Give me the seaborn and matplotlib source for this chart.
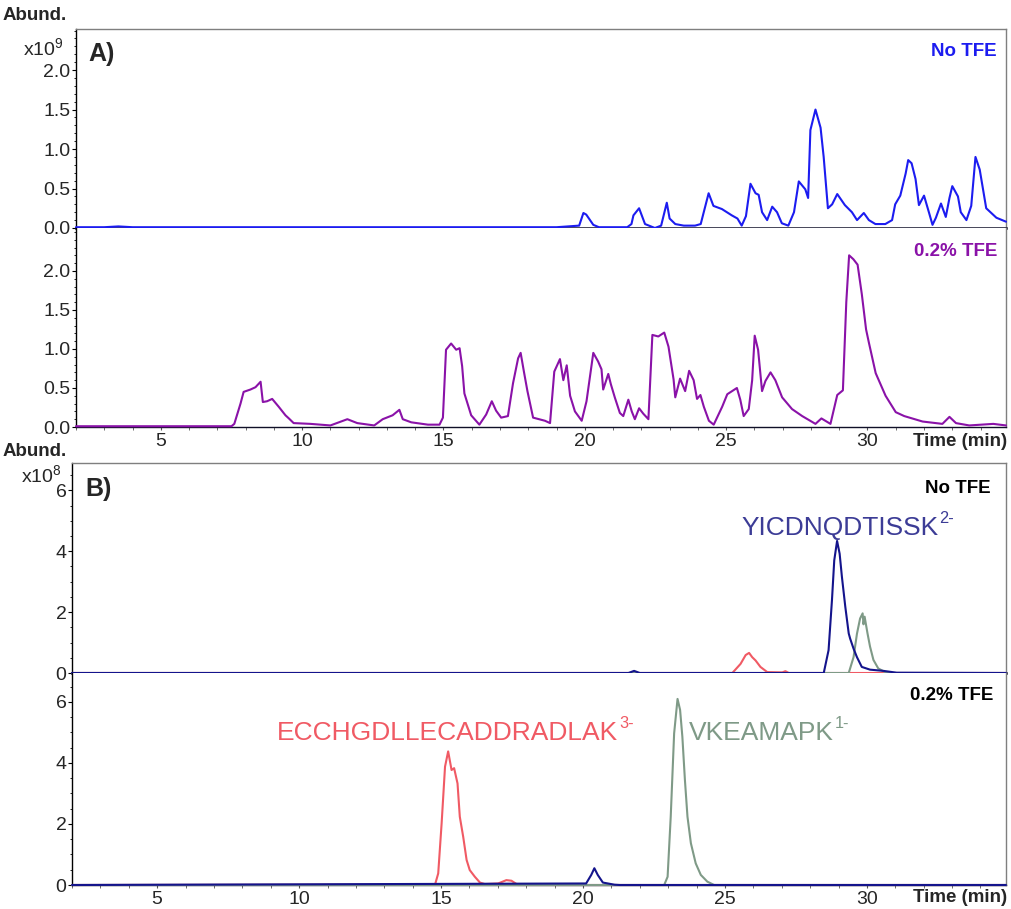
import matplotlib
matplotlib.use("Agg")
import matplotlib.pyplot as plt
import pandas as pd
import seaborn as sns
from matplotlib.ticker import MultipleLocator, FixedLocator, FormatStrFormatter

# ---------------------------------------------------------------------------
# Chromatogram data: (retention time in min, abundance)
# Panel A: total ion chromatograms, abundance x10^9
# ---------------------------------------------------------------------------
tic_no_tfe = [
    (2.0, 0.01), (3.0, 0.01), (3.5, 0.02), (4.0, 0.01), (6.0, 0.01), (8.0, 0.01),
    (10.0, 0.01), (14.0, 0.01), (19.0, 0.01), (19.8, 0.03), (19.95, 0.19), (20.05, 0.17),
    (20.3, 0.04), (20.5, 0.01), (21.5, 0.01), (21.65, 0.05), (21.72, 0.16), (21.92, 0.25),
    (22.13, 0.05), (22.48, 0.0), (22.7, 0.03), (22.9, 0.32), (23.0, 0.12), (23.2, 0.05),
    (23.5, 0.03), (23.9, 0.03), (24.1, 0.05), (24.38, 0.44), (24.55, 0.28), (24.85, 0.24),
    (25.2, 0.16), (25.4, 0.12), (25.55, 0.03), (25.7, 0.15), (25.86, 0.56), (26.04, 0.44),
    (26.15, 0.42), (26.27, 0.20), (26.45, 0.10), (26.63, 0.27), (26.8, 0.20), (26.97, 0.06),
    (27.2, 0.03), (27.4, 0.20), (27.57, 0.59), (27.8, 0.49), (27.9, 0.38), (27.98, 1.24),
    (28.16, 1.50), (28.34, 1.27), (28.45, 0.90), (28.6, 0.25), (28.75, 0.30), (28.93, 0.43),
    (29.2, 0.29), (29.45, 0.20), (29.63, 0.10), (29.87, 0.19), (30.05, 0.10), (30.28, 0.05),
    (30.63, 0.05), (30.87, 0.10), (30.98, 0.30), (31.16, 0.41), (31.35, 0.69), (31.44, 0.86),
    (31.56, 0.82), (31.7, 0.62), (31.82, 0.29), (32.0, 0.41), (32.18, 0.19), (32.3, 0.04),
    (32.42, 0.13), (32.6, 0.31), (32.77, 0.14), (32.9, 0.38), (33.0, 0.53), (33.2, 0.40),
    (33.3, 0.20), (33.5, 0.10), (33.67, 0.28), (33.82, 0.90), (33.97, 0.74), (34.2, 0.25),
    (34.56, 0.13), (34.9, 0.08),
]

tic_tfe = [
    (2.0, 0.01), (5.0, 0.01), (7.5, 0.01), (7.6, 0.04), (7.82, 0.30), (7.93, 0.45),
    (8.17, 0.48), (8.35, 0.51), (8.53, 0.58), (8.61, 0.32), (8.76, 0.33), (8.94, 0.36),
    (9.17, 0.26), (9.41, 0.15), (9.53, 0.11), (9.7, 0.05), (10.3, 0.04), (11.0, 0.02),
    (11.6, 0.10), (11.95, 0.05), (12.55, 0.02), (12.85, 0.10), (13.2, 0.15), (13.44, 0.22),
    (13.56, 0.10), (13.86, 0.06), (14.45, 0.03), (14.86, 0.03), (14.98, 0.12), (15.09, 0.99),
    (15.27, 1.07), (15.45, 0.99), (15.57, 1.01), (15.66, 0.78), (15.74, 0.43), (15.98, 0.15),
    (16.27, 0.03), (16.51, 0.16), (16.71, 0.33), (16.86, 0.21), (17.04, 0.12), (17.28, 0.14),
    (17.46, 0.56), (17.64, 0.88), (17.73, 0.95), (17.85, 0.70), (17.97, 0.46), (18.17, 0.12),
    (18.59, 0.08), (18.77, 0.05), (18.92, 0.71), (19.12, 0.87), (19.24, 0.60), (19.36, 0.79),
    (19.48, 0.40), (19.65, 0.20), (19.89, 0.08), (20.06, 0.33), (20.3, 0.95), (20.47, 0.84),
    (20.59, 0.74), (20.65, 0.48), (20.83, 0.68), (20.92, 0.55), (21.06, 0.38), (21.24, 0.18),
    (21.36, 0.14), (21.54, 0.35), (21.66, 0.20), (21.77, 0.10), (21.92, 0.24), (22.07, 0.17),
    (22.25, 0.10), (22.39, 1.18), (22.6, 1.16), (22.81, 1.21), (22.96, 1.03), (23.14, 0.61),
    (23.2, 0.38), (23.37, 0.62), (23.55, 0.46), (23.69, 0.72), (23.85, 0.60), (23.97, 0.36),
    (24.09, 0.41), (24.21, 0.26), (24.39, 0.08), (24.56, 0.03), (24.86, 0.26), (25.04, 0.42),
    (25.38, 0.50), (25.5, 0.35), (25.62, 0.14), (25.8, 0.23), (25.92, 0.60), (26.01, 1.17),
    (26.13, 0.99), (26.27, 0.46), (26.39, 0.59), (26.57, 0.70), (26.74, 0.60), (26.98, 0.38),
    (27.33, 0.23), (27.69, 0.14), (28.16, 0.04), (28.37, 0.11), (28.69, 0.04), (28.93, 0.41),
    (29.13, 0.47), (29.25, 1.60), (29.35, 2.20), (29.5, 2.15), (29.65, 2.08), (29.8, 1.70),
    (29.95, 1.25), (30.05, 1.08), (30.29, 0.69), (30.64, 0.40), (31.0, 0.19), (31.3, 0.14),
    (31.95, 0.07), (32.65, 0.04), (32.9, 0.13), (33.13, 0.05), (33.6, 0.02), (34.45, 0.04),
    (34.9, 0.02),
]

# ---------------------------------------------------------------------------
# Panel B: extracted ion chromatograms of three peptides, abundance x10^8
# ---------------------------------------------------------------------------
yicd_no_tfe = [
    (2.0, 0.0), (21.6, 0.0), (21.8, 0.07), (22.0, 0.0), (28.48, 0.0), (28.65, 0.75),
    (28.77, 2.4), (28.85, 3.7), (28.95, 4.34), (29.04, 3.92), (29.12, 3.16), (29.24, 2.17),
    (29.36, 1.3), (29.41, 1.13), (29.53, 0.8), (29.65, 0.52), (29.82, 0.2), (30.11, 0.11),
    (30.58, 0.07), (31.05, 0.01), (34.9, 0.0),
]
vkea_no_tfe = [
    (2.0, 0.0), (29.36, 0.0), (29.53, 0.52), (29.65, 1.29), (29.76, 1.79), (29.85, 1.96),
    (29.88, 1.6), (29.92, 1.85), (30.02, 1.31), (30.11, 0.87), (30.23, 0.43), (30.4, 0.15),
    (30.7, 0.0), (34.9, 0.0),
]
ecch_no_tfe = [
    (2.0, 0.0), (25.26, 0.0), (25.55, 0.3), (25.73, 0.59), (25.85, 0.66), (25.96, 0.52),
    (26.08, 0.41), (26.25, 0.2), (26.49, 0.03), (27.02, 0.02), (27.13, 0.06), (27.25, 0.0),
    (34.9, 0.0),
]
yicd_tfe = [
    (2.0, 0.0), (20.11, 0.05), (20.29, 0.33), (20.4, 0.55), (20.52, 0.33), (20.7, 0.08),
    (21.11, 0.01), (21.3, 0.0), (34.9, 0.0),
]
vkea_tfe = [
    (2.0, 0.0), (22.86, 0.0), (22.98, 0.27), (23.09, 2.24), (23.21, 4.97), (23.33, 6.1),
    (23.42, 5.74), (23.5, 4.86), (23.59, 3.44), (23.68, 2.24), (23.8, 1.37), (23.97, 0.71),
    (24.15, 0.33), (24.38, 0.11), (24.62, 0.0), (34.9, 0.0),
]
ecch_tfe = [
    (2.0, 0.0), (14.2, 0.01), (14.79, 0.02), (14.9, 0.38), (15.02, 2.02), (15.14, 3.88),
    (15.25, 4.38), (15.37, 3.77), (15.46, 3.83), (15.58, 3.33), (15.66, 2.24), (15.78, 1.58),
    (15.9, 0.82), (16.01, 0.49), (16.19, 0.27), (16.37, 0.08), (16.54, 0.03), (17.01, 0.05),
    (17.3, 0.16), (17.48, 0.14), (17.71, 0.0), (34.9, 0.0),
]

conditions = ["No TFE", "0.2% TFE"]
peptides = ["YICDNQDTISSK", "ECCHGDLLECADDRADLAK", "VKEAMAPK"]
charges = ["2-", "3-", "1-"]

# ---------------------------------------------------------------------------
# Styling
# ---------------------------------------------------------------------------
sns.set_style("ticks")
plt.rcParams["font.family"] = ["Liberation Sans", "DejaVu Sans"]
plt.rcParams["mathtext.fontset"] = "custom"
plt.rcParams["mathtext.rm"] = "Liberation Sans"
plt.rcParams["mathtext.it"] = "Liberation Sans:italic"
plt.rcParams["mathtext.bf"] = "Liberation Sans:bold"

C_BLUE = "#1c1cf0"
C_PURPLE = "#8a12a8"
C_NAVY = "#14148c"
C_RED = "#f05a64"
C_GREEN = "#7f9a87"
C_FRAME = "#7f7f7f"

W, H = 1012, 909
fig = plt.figure(figsize=(W / 100, H / 100), dpi=100)


def box(left, top, right, bottom):
    return [left / W, 1 - bottom / H, (right - left) / W, (bottom - top) / H]


def ftext(x, y, s, **kw):
    return fig.text(x / W, 1 - y / H, s, **kw)


axA1 = fig.add_axes(box(76, 29, 1006, 228))
axA2 = fig.add_axes(box(76, 228, 1006, 427))
axB1 = fig.add_axes(box(72, 463, 1006, 673))
axB2 = fig.add_axes(box(72, 673, 1006, 885))


def trace(ax, pts, color, lw=1.5):
    df = pd.DataFrame(pts, columns=["time", "abund"])
    sns.lineplot(data=df, x="time", y="abund", ax=ax, color=color, lw=lw,
                 estimator=None, sort=False, clip_on=False, zorder=3)


def style(ax, ylim, majors, minor, fmt, top_frame, show_x):
    ax.set_xlim(2, 34.9)
    ax.set_ylim(*ylim)
    ax.set_xlabel("")
    ax.set_ylabel("")
    ax.yaxis.set_major_locator(FixedLocator(majors))
    ax.yaxis.set_minor_locator(MultipleLocator(minor))
    ax.yaxis.set_major_formatter(FormatStrFormatter(fmt))
    ax.xaxis.set_major_locator(MultipleLocator(5))
    ax.xaxis.set_minor_locator(MultipleLocator(1))
    ax.spines["left"].set_color("black")
    ax.spines["left"].set_linewidth(1.0)
    ax.spines["right"].set_color(C_FRAME)
    ax.spines["right"].set_linewidth(1.0)
    ax.spines["top"].set_visible(top_frame)
    ax.spines["top"].set_color(C_FRAME)
    ax.spines["top"].set_linewidth(1.0)
    ax.spines["bottom"].set_color("#101028")
    ax.spines["bottom"].set_linewidth(1.8 if top_frame else 1.0)
    ax.tick_params(axis="y", which="major", direction="out", length=3, width=0.8,
                   labelsize=14, pad=1, color="black")
    ax.tick_params(axis="y", which="minor", direction="out", length=1.8, width=0.6,
                   color="black")
    if show_x:
        ax.tick_params(axis="x", which="major", direction="out", length=2.5, width=0.8,
                       labelsize=14, pad=2, color="#555555")
        ax.tick_params(axis="x", which="minor", direction="out", length=1.8, width=0.6,
                       color="#555555")
    else:
        ax.tick_params(axis="x", which="both", bottom=False, labelbottom=False)


# Panel A
trace(axA1, tic_no_tfe, C_BLUE)
trace(axA2, tic_tfe, C_PURPLE)
a_ticks = [0.0, 0.5, 1.0, 1.5, 2.0]
style(axA1, (0, 2.52), a_ticks, 0.1, "%.1f", True, False)
style(axA2, (0, 2.55), a_ticks, 0.1, "%.1f", False, True)

# Panel B
trace(axB1, ecch_no_tfe, C_RED)
trace(axB1, vkea_no_tfe, C_GREEN)
trace(axB1, yicd_no_tfe, C_NAVY)
trace(axB2, ecch_tfe, C_RED)
trace(axB2, vkea_tfe, C_GREEN)
trace(axB2, yicd_tfe, C_NAVY)
b_ticks = [0, 2, 4, 6]
style(axB1, (0, 6.9), b_ticks, 0.5, "%d", True, False)
style(axB2, (0, 6.95), b_ticks, 0.5, "%d", False, True)

# Axis annotations
bold = dict(fontweight="bold", fontsize=13.5)
ftext(3, 15, "Abund.", ha="left", va="center", **bold)
ftext(3, 452, "Abund.", ha="left", va="center", **bold)
ftext(64, 48, r"x10$^{9}$", ha="right", va="center", fontsize=14)
ftext(62, 475, r"x10$^{8}$", ha="right", va="center", fontsize=14)
ftext(88, 54, "A)", ha="left", va="center", fontweight="bold", fontsize=18)
ftext(85, 489, "B)", ha="left", va="center", fontweight="bold", fontsize=18)
ftext(1007, 442, "Time (min)", ha="right", va="center", **bold)
ftext(1007, 897, "Time (min)", ha="right", va="center", **bold)

# Condition labels
ftext(997, 52, conditions[0], ha="right", va="center", color=C_BLUE, **bold)
ftext(997, 251, conditions[1], ha="right", va="center", color=C_PURPLE, **bold)
ftext(991, 489, conditions[0], ha="right", va="center", color="black", **bold)
ftext(993, 695, conditions[1], ha="right", va="center", color="black", **bold)

# Peptide labels with the charge state as a small raised suffix
renderer = fig.canvas.get_renderer()


def peptide_label(x, y, name, charge, color, size=19):
    main = ftext(x, y, name, ha="left", va="baseline", fontsize=size, color=color)
    bb = main.get_window_extent(renderer)
    cap = size * 100 / 72 * 0.72
    fig.text((bb.x1 + 1) / W, (bb.y0 + (1 - y / H) * H - bb.y0 + cap * 0.62) / H,
             charge, ha="left", va="baseline", fontsize=size * 0.62, color=color)


peptide_label(741, 535, peptides[0], charges[0], "#3c3c96", 19)
peptide_label(277, 740, peptides[1], charges[1], C_RED, 19)
peptide_label(689, 740, peptides[2], charges[2], C_GREEN, 19)

fig.savefig("out.png", dpi=100)
